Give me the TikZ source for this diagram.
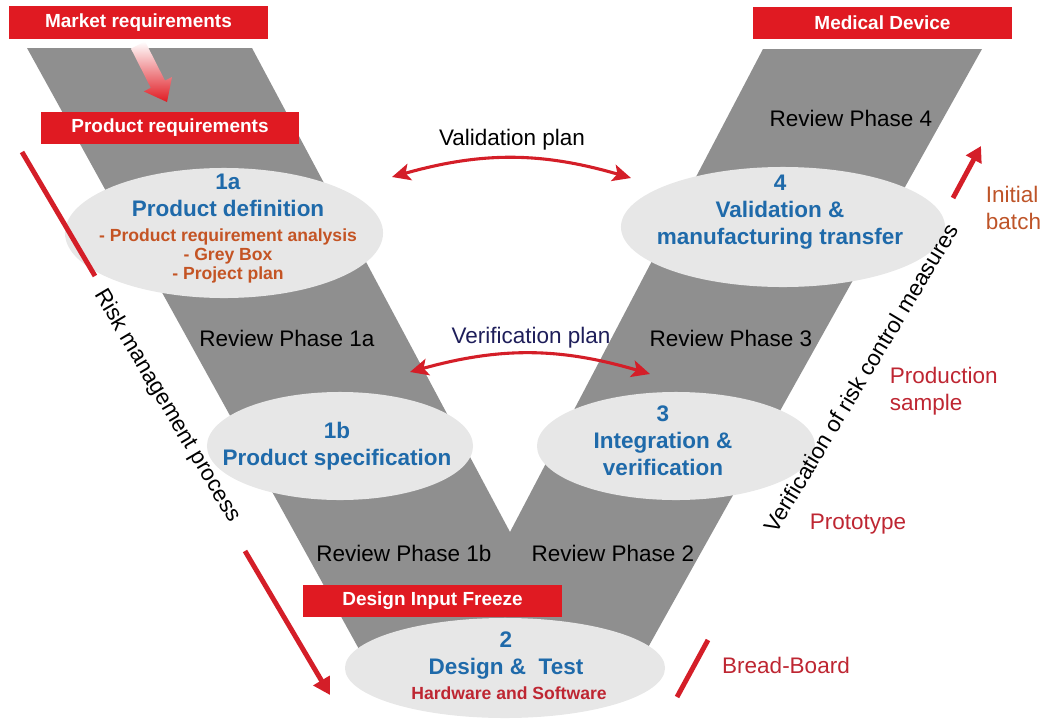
\documentclass[tikz,border=0pt]{standalone}
\usepackage{fontspec}
\setmainfont{Liberation Sans}
\usetikzlibrary{shapes.geometric,arrows.meta}
\definecolor{vred}{RGB}{224,26,34}
\definecolor{ared}{RGB}{212,30,40}
\definecolor{vgrey}{RGB}{143,143,143}
\definecolor{egrey}{RGB}{231,231,231}
\definecolor{eblue}{RGB}{31,106,170}
\definecolor{eorange}{RGB}{196,84,36}
\definecolor{lred}{RGB}{190,38,50}
\definecolor{lbrown}{RGB}{190,84,40}
\definecolor{navy}{RGB}{30,30,90}

\begin{document}
\begin{tikzpicture}[x=0.025cm, y=-0.025cm,
    redbox/.style={fill=vred, text=white, font=\fontsize{13.5}{16}\selectfont\bfseries, minimum width=6.45cm, minimum height=0.8cm, inner sep=0pt},
    phase/.style={ellipse, fill=egrey, inner sep=0pt},
    review/.style={font=\fontsize{16}{19}\selectfont},
    etitle/.style={text=eblue, font=\fontsize{16}{19.2}\selectfont\bfseries, align=center},
    esub/.style={font=\fontsize{12.5}{13.5}\selectfont\bfseries, align=center},
    outlabel/.style={text=lred, font=\fontsize{16}{19}\selectfont, align=left},
    redline/.style={draw=ared, line width=3.5pt},
    plan/.style={draw=ared, line width=2.2pt, {Stealth[length=13pt,width=12pt,inset=3pt]}-{Stealth[length=13pt,width=12pt,inset=3pt]}}]
        \useasboundingbox (0,0) rectangle (1040,724);

        \fill[vgrey] (27,48) -- (252,48) -- (510,532) -- (763,49) -- (982,49) -- (641,660) -- (365,660) -- cycle;

        \node[redbox] (market) at (138.5,22.5) {Market requirements};
        \node[redbox] (product) at (170,128) {Product requirements};
        \node[redbox] (device) at (882.5,23) {Medical Device};
        \node[redbox] (freeze) at (432.5,600.5) {Design Input Freeze};

        \shade[top color=white, bottom color=vred] (145.1,41.4) -- (165,80.6) -- (172,77) -- (167,102) -- (143.8,91.4) -- (150.8,87.8) -- (130.9,48.6) -- cycle;

        \node[phase, minimum width=7.95cm, minimum height=3.25cm] (p1a) at (224,233) {};
        \node[phase, minimum width=8.1cm, minimum height=3cm] (p4) at (783,227) {};
        \node[phase, minimum width=6.65cm, minimum height=2.7cm] (p1b) at (340,446) {};
        \node[phase, minimum width=6.95cm, minimum height=2.7cm] (p3) at (676,446) {};
        \node[phase, minimum width=8cm, minimum height=2.5cm] (p2) at (505,668) {};

        \node[etitle] (t1a) at (228,195) {1a\\Product definition};
        \node[esub, text=eorange] (s1a) at (228,256) {- Product requirement analysis\\- Grey Box\\- Project plan};
        \node[etitle] (t4) at (780,212) {4\\Validation \&\\manufacturing transfer};
        \node[etitle] (t1b) at (337,446) {1b\\Product specification};
        \node[etitle] (t3) at (663,441) {3\\Integration \&\\verification};
        \node[etitle] (t2) at (506,656) {2\\Design \&\ \ Test};
        \node[esub, text=lred] (s2) at (509,693) {Hardware and Software};

        \node[review] (r4) at (851,118) {Review Phase 4};
        \node[review] (r1a) at (287,338) {Review Phase 1a};
        \node[review] (r3) at (731,338) {Review Phase 3};
        \node[review] (r1b) at (404,553) {Review Phase 1b};
        \node[review] (r2) at (613,553) {Review Phase 2};

        \node[review] (valplan) at (512,140) {Validation plan};
        \node[review, text=navy] (verplan) at (531,338) {Verification plan};
        \coordinate (val left) at (392,177);
        \coordinate (val right) at (631,178);
        \coordinate (ver left) at (410,372);
        \coordinate (ver right) at (650,374);
        \draw[plan] (val left) to[bend left=16] (val right);
        \draw[plan] (ver left) to[bend left=16] (ver right);

        \coordinate (risk a) at (22,152);
        \coordinate (risk b) at (95,276);
        \coordinate (risk c) at (245,551);
        \coordinate (risk d) at (330,695);
        \draw[redline] (risk a) -- (risk b);
        \draw[redline, -{Triangle[length=12pt,width=13pt]}] (risk c) -- (risk d);
        \node[review, rotate=-59.4] (risk) at (167,406) {Risk management process};

        \node[review, rotate=59] (verrisk) at (861,378) {Verification of risk control measures};

        \coordinate (batch a) at (953,198);
        \coordinate (batch b) at (981,146);
        \draw[redline, -{Triangle[length=11pt,width=12pt]}] (batch a) -- (batch b);
        \node[outlabel, text=lbrown, anchor=west] (batch) at (981,208) {Initial\\batch};
        \node[outlabel, anchor=west] (sample) at (885,391) {Production\\sample};
        \node[outlabel] (proto) at (858,524) {Prototype};
        \coordinate (board a) at (677,697);
        \coordinate (board b) at (708,640);
        \draw[redline] (board a) -- (board b);
        \node[outlabel] (board) at (786,665) {Bread-Board};
    \end{tikzpicture}
\end{document}
